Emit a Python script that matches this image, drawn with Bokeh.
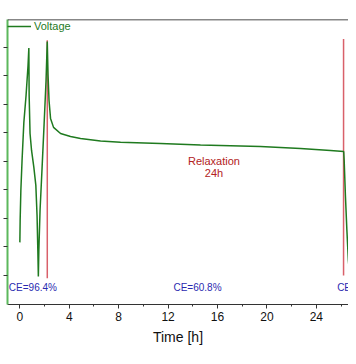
from bokeh.plotting import figure
from bokeh.models import Range1d, Span, FixedTicker, Legend, LegendItem, CustomJSTickFormatter
from bokeh.core.properties import value
from bokeh.embed import file_html
from bokeh.resources import INLINE

# ---- data ----
time_h = [0.00, 0.024, 0.081, 0.178, 0.324, 0.502, 0.663, 0.728,
          0.752, 0.825, 0.947, 1.133, 1.294, 1.392, 1.456, 1.497,
          1.537, 1.634, 1.796, 1.958, 2.120, 2.217,
          2.282, 2.362, 2.484, 2.727, 3.293, 4.102, 4.911, 6.529, 8.147,
          11.38, 14.62, 19.47, 22.71, 25.14, 26.21,
          26.25, 26.35, 26.47, 26.59, 26.70,
          26.80, 26.92, 27.02, 27.14, 27.24, 27.40]
voltage = [3.232, 3.386, 3.596, 3.807, 4.074, 4.263, 4.474, 4.596,
           4.263, 3.996, 3.877, 3.758, 3.632, 3.421, 3.175, 2.993,
           3.175, 3.456, 3.751, 4.053, 4.368, 4.642,
           4.404, 4.228, 4.102, 4.039, 3.996, 3.975, 3.961, 3.944, 3.935,
           3.926, 3.916, 3.905, 3.891, 3.877, 3.870,
           3.807, 3.561, 3.316, 3.105, 3.000,
           3.246, 3.526, 3.807, 4.088, 4.382, 4.649]

marker_t = [2.22, 26.2]
marker_top = [4.65, 4.66]
marker_bottom = [2.98, 3.00]

ce_t = [-0.89, 14.38, 25.68]
ce_v = [2.916, 2.916, 2.916]
ce_text = ["CE=96.4%", "CE=60.8%", "CE=97.1%"]
ce_align = ["left", "center", "left"]

relax_t = [15.71, 15.71]
relax_v = [3.802, 3.716]
relax_text = ["Relaxation", "24h"]

x_ticks = [0, 4, 8, 12, 16, 20, 24]
x_minor = [2, 6, 10, 14, 18, 22, 26]
y_ticks = [3.0, 3.2, 3.4, 3.6, 3.8, 4.0, 4.2, 4.4, 4.6]

FONT = "Liberation Sans"
GREEN = "#1f7a1f"
AXIS_GREEN = "#5cb85c"

p = figure(width=348, height=347, output_backend="svg", toolbar_location=None,
           x_range=Range1d(-1.0, 26.6), y_range=Range1d(2.796, 4.796),
           min_border_left=7, min_border_right=0, min_border_top=19,
           min_border_bottom=0)
p.outline_line_color = None
p.grid.visible = False
p.background_fill_color = "white"
p.border_fill_color = "white"

# x axis
xa = p.xaxis[0]
xa.ticker = FixedTicker(ticks=x_ticks, minor_ticks=x_minor)
xa.axis_label = "Time [h]"
xa.axis_label_text_font = FONT
xa.axis_label_text_font_size = "14px"
xa.axis_label_text_font_style = "normal"
xa.axis_label_text_color = "#111111"
xa.axis_label_standoff = 5
xa.major_label_text_font = FONT
xa.major_label_text_font_size = "12px"
xa.major_label_text_color = "#111111"
xa.major_label_standoff = 3
xa.axis_line_color = "#333333"
xa.axis_line_width = 1.2
xa.major_tick_line_color = "#333333"
xa.minor_tick_line_color = "#333333"
xa.major_tick_out = 4
xa.major_tick_in = 0
xa.minor_tick_out = 2
xa.minor_tick_in = 0

# y axis (labels outside view)
ya = p.yaxis[0]
ya.ticker = FixedTicker(ticks=y_ticks)
ya.formatter = CustomJSTickFormatter(code="return ''")
ya.major_label_text_font_size = "0px"
ya.major_label_standoff = 0
ya.axis_line_color = AXIS_GREEN
ya.axis_line_width = 2
ya.major_tick_line_color = "#333333"
ya.major_tick_out = 4
ya.major_tick_in = 0
ya.minor_tick_line_color = None

# top border
p.add_layout(Span(location=4.796, dimension="width", line_color="#111111", line_width=1.5))

# relaxation markers
p.segment(x0=marker_t, y0=marker_bottom, x1=marker_t, y1=marker_top,
          line_color="#d9606a", line_width=1.5)

# voltage curve
r = p.line(time_h, voltage, line_color=GREEN, line_width=1.5)

# CE labels
p.text(x=ce_t, y=ce_v, text=ce_text, text_align=ce_align, text_baseline="middle",
       text_font=value(FONT), text_font_size="10px", text_color="#2a2ab0")

# relaxation text
p.text(x=relax_t, y=relax_v, text=relax_text, text_align="center", text_baseline="middle",
       text_font=value(FONT), text_font_size="11px", text_color="#b22222")

legend = Legend(items=[LegendItem(label="Voltage", renderers=[r])],
                location="top_left", border_line_color=None,
                background_fill_alpha=0, margin=0, padding=4,
                glyph_width=24, glyph_height=14, label_height=14,
                label_standoff=3, label_text_font=FONT,
                label_text_font_size="11px", label_text_color=GREEN)
p.add_layout(legend)

open("out.html", "w").write(file_html(p, INLINE))
